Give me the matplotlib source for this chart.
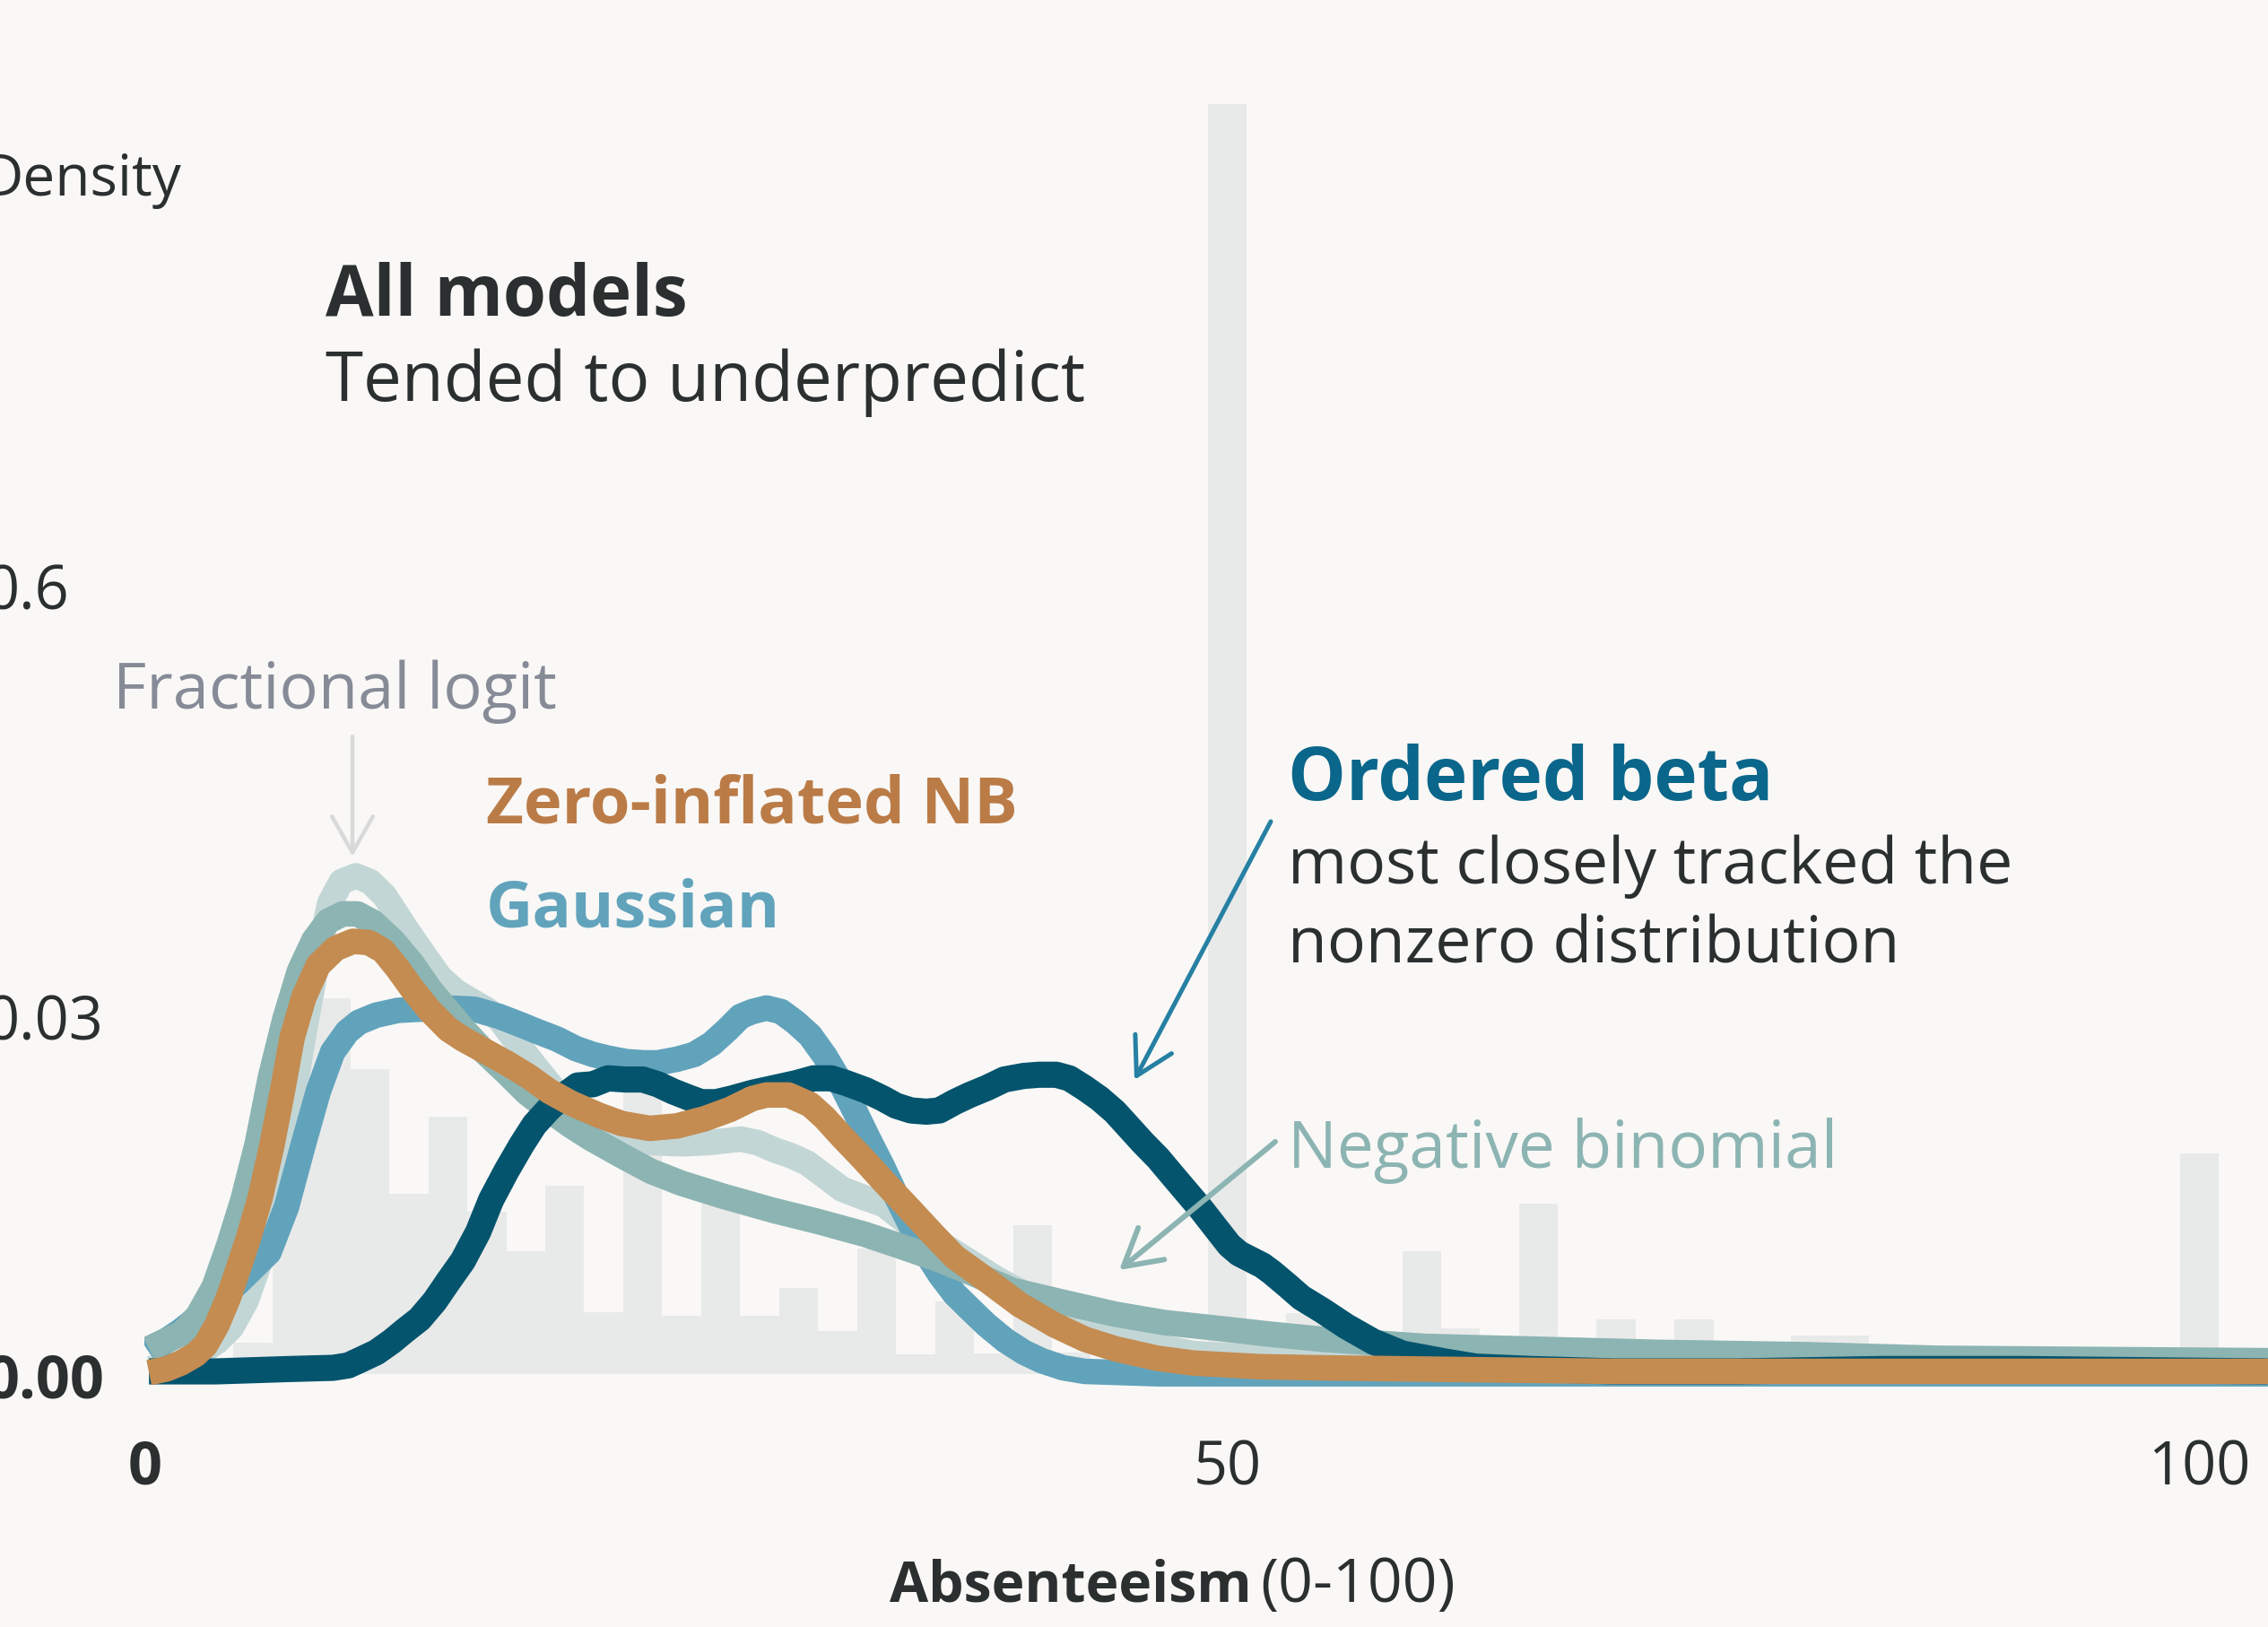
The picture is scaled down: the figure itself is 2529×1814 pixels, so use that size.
import numpy as np
import matplotlib
matplotlib.use("Agg")
import matplotlib.pyplot as plt
from matplotlib.patches import FancyArrowPatch, ArrowStyle

# ---------------- data ----------------
bin_centers = [1.4, 3.2, 5.0, 6.8, 8.6, 10.4, 12.2, 14.0, 15.8, 17.6, 19.4, 21.2, 23.0,
               24.8, 26.6, 28.4, 30.2, 32.0, 33.8, 35.6, 37.4, 39.2, 41.0, 42.8, 44.6,
               46.4, 48.2, 50, 52, 54, 56, 58, 60, 62, 64, 66, 68, 70, 72, 74, 76, 78,
               80, 82, 84, 86, 88, 90, 92, 94, 96, 98, 100]
bin_density = [0.0004, 0.0004, 0.0026, 0.0298, 0.0315, 0.0256, 0.0151, 0.0216, 0.0136,
               0.0103, 0.0158, 0.0052, 0.0239, 0.0049, 0.0143, 0.0049, 0.0072, 0.0036,
               0.0105, 0.0016, 0.0061, 0.0017, 0.0125, 0.0018, 0.0008, 0.0008, 0.0008,
               0.1066, 0.0010, 0.0051, 0.0008, 0.0008, 0.0103, 0.0038, 0.0008, 0.0143,
               0.0006, 0.0046, 0.0006, 0.0046, 0.0006, 0.0006, 0.0032, 0.0032, 0.0004,
               0.0004, 0.0004, 0.0004, 0.0004, 0.0004, 0.0004, 0.0004, 0.0185]

ob_x = [0.2, 3.3, 6.7, 8.7, 9.4, 10.0, 10.7, 11.4, 12.0, 12.7, 13.4, 14.0, 14.7, 15.4,
        16.0, 16.7, 17.4, 18.0, 18.7, 19.4, 20.0, 20.7, 21.4, 22.2, 23.0, 23.7, 24.4,
        25.1, 25.7, 26.4, 27.1, 28.1, 29.1, 30.1, 30.9, 31.7, 32.4, 33.3, 34.1, 34.7,
        35.4, 36.1, 36.7, 37.4, 38.1, 38.9, 39.7, 40.6, 41.3, 42.1, 42.7, 43.4, 44.1,
        44.8, 45.4, 46.1, 46.8, 47.4, 48.1, 48.8, 49.4, 50.1, 50.6, 51.2, 51.8, 52.3,
        53.1, 53.8, 54.9, 56.1, 57.5, 59.0, 61.3, 62.8, 65.7, 69.9, 76.2, 83.6, 91.0,
        103.5]
ob_y = [0.0002, 0.0002, 0.0004, 0.0005, 0.0007, 0.0012, 0.0018, 0.0027, 0.0036, 0.0046,
        0.0061, 0.0077, 0.0095, 0.0119, 0.0146, 0.0170, 0.0192, 0.0209, 0.0223, 0.0234,
        0.0242, 0.0243, 0.0248, 0.0247, 0.0247, 0.0243, 0.0237, 0.0232, 0.0228, 0.0228,
        0.0231, 0.0236, 0.0240, 0.0244, 0.0248, 0.0248, 0.0244, 0.0238, 0.0231, 0.0225,
        0.0221, 0.0220, 0.0221, 0.0228, 0.0234, 0.0240, 0.0247, 0.0250, 0.0251, 0.0251,
        0.0248, 0.0240, 0.0231, 0.0220, 0.0208, 0.0194, 0.0181, 0.0168, 0.0153, 0.0138,
        0.0124, 0.0108, 0.0101, 0.0096, 0.0091, 0.0085, 0.0074, 0.0064, 0.0053, 0.0040,
        0.0027, 0.0017, 0.0010, 0.0006, 0.0004, 0.0002, 0.0002, 0.0004, 0.0004, 0.0002]

gau_x = [0.2, 1.67, 3.01, 4.34, 5.74, 6.55, 7.35, 8.02, 8.68, 9.35, 9.89, 10.69, 11.69,
         12.69, 14.03, 15.23, 16.37, 17.37, 18.04, 19.04, 19.91, 20.71, 21.38, 22.24,
         23.05, 23.71, 24.58, 25.38, 26.19, 26.92, 27.52, 28.06, 28.72, 29.39, 30.06,
         30.73, 31.40, 32.06, 32.73, 33.40, 34.07, 34.74, 35.40, 36.07, 36.74, 37.41,
         38.08, 38.88, 39.75, 40.61, 41.42, 42.42, 43.42, 46.76, 61.27, 103.53]
gau_y = [0.0018, 0.0036, 0.0055, 0.0077, 0.0102, 0.0140, 0.0194, 0.0237, 0.0270, 0.0287,
         0.0295, 0.0301, 0.0305, 0.0306, 0.0307, 0.0306, 0.0300, 0.0293, 0.0288, 0.0281,
         0.0273, 0.0268, 0.0265, 0.0262, 0.0261, 0.0261, 0.0264, 0.0268, 0.0277, 0.0289,
         0.0300, 0.0304, 0.0307, 0.0304, 0.0295, 0.0284, 0.0267, 0.0247, 0.0223, 0.0198,
         0.0174, 0.0148, 0.0124, 0.0102, 0.0083, 0.0067, 0.0055, 0.0041, 0.0028, 0.0018,
         0.0011, 0.0005, 0.0002, 0.0, 0.0, 0.0]

zinb_x = [0.2, 1.00, 1.67, 2.34, 2.81, 3.34, 3.87, 4.34, 4.81, 5.34, 5.88, 6.35, 6.81,
          7.35, 8.02, 8.82, 9.62, 10.35, 11.02, 11.69, 12.36, 13.16, 14.03, 14.70, 15.70,
          16.70, 17.70, 18.70, 19.71, 20.98, 22.04, 23.31, 24.58, 25.85, 27.05, 28.06,
          28.72, 29.73, 30.73, 31.40, 32.20, 33.20, 34.20, 35.34, 36.41, 37.41, 38.94,
          40.41, 42.02, 43.42, 44.82, 46.76, 48.43, 51.60, 54.87, 69.90, 103.53]
zinb_y = [0.0001, 0.0004, 0.0009, 0.0016, 0.0024, 0.0041, 0.0064, 0.0089, 0.0115, 0.0148,
          0.0192, 0.0236, 0.0282, 0.0316, 0.0343, 0.0357, 0.0363, 0.0362, 0.0355, 0.0340,
          0.0323, 0.0305, 0.0289, 0.0281, 0.0271, 0.0261, 0.0250, 0.0237, 0.0227, 0.0217,
          0.0210, 0.0206, 0.0208, 0.0214, 0.0222, 0.0231, 0.0234, 0.0234, 0.0226, 0.0215,
          0.0199, 0.0180, 0.0160, 0.0138, 0.0117, 0.0098, 0.0078, 0.0058, 0.0041, 0.0029,
          0.0021, 0.0013, 0.0009, 0.0006, 0.0005, 0.0002, 0.0002]

nb_x = [0.2, 1.00, 1.74, 2.47, 3.21, 3.87, 4.54, 5.21, 5.81, 6.48, 7.15, 7.82, 8.48, 9.15,
        9.82, 10.55, 11.49, 12.36, 13.16, 14.03, 14.83, 15.70, 16.70, 17.64, 18.70, 19.71,
        20.57, 22.04, 23.38, 24.78, 26.72, 29.06, 31.06, 33.27, 35.07, 36.81, 38.41, 40.08,
        42.42, 44.82, 47.09, 49.63, 52.34, 54.87, 57.55, 60.15, 64.99, 72.13, 79.87, 86.57,
        94.75, 103.53]
nb_y = [0.0021, 0.0028, 0.0034, 0.0049, 0.0073, 0.0107, 0.0146, 0.0194, 0.0249, 0.0298,
        0.0338, 0.0364, 0.0380, 0.0386, 0.0386, 0.0379, 0.0363, 0.0344, 0.0323, 0.0304,
        0.0287, 0.0270, 0.0253, 0.0236, 0.0221, 0.0208, 0.0198, 0.0183, 0.0170, 0.0160,
        0.0149, 0.0137, 0.0128, 0.0117, 0.0106, 0.0095, 0.0083, 0.0070, 0.0060, 0.0050,
        0.0043, 0.0038, 0.0033, 0.0029, 0.0026, 0.0023, 0.0021, 0.0018, 0.0016, 0.0013,
        0.0012, 0.0011]

fl_x = [0.2, 1.34, 2.34, 3.34, 4.01, 4.68, 5.34, 6.01, 6.68, 7.35, 8.02, 8.55, 9.08, 9.75,
        10.42, 11.09, 12.09, 12.89, 13.63, 14.36, 15.10, 15.76, 16.37, 17.23, 18.04, 18.84,
        19.51, 20.71, 22.04, 23.38, 24.78, 26.05, 27.52, 28.32, 29.06, 29.86, 30.59, 31.40,
        32.20, 33.20, 34.14, 35.34, 36.54, 37.74, 39.41, 41.28, 43.09, 44.82, 46.76, 48.43,
        52.19, 57.55, 69.90, 83.59, 103.53]
fl_y = [0.0004, 0.0007, 0.0015, 0.0027, 0.0039, 0.0061, 0.0095, 0.0146, 0.0213, 0.0285,
        0.0352, 0.0395, 0.0413, 0.0418, 0.0413, 0.0401, 0.0373, 0.0352, 0.0333, 0.0321,
        0.0313, 0.0306, 0.0298, 0.0277, 0.0258, 0.0240, 0.0227, 0.0211, 0.0199, 0.0194,
        0.0193, 0.0194, 0.0197, 0.0194, 0.0188, 0.0183, 0.0177, 0.0166, 0.0155, 0.0148,
        0.0142, 0.0125, 0.0112, 0.0098, 0.0079, 0.0061, 0.0044, 0.0032, 0.0023, 0.0017,
        0.0013, 0.0011, 0.0006, 0.0004, 0.0002]

x_ticks = [0, 50, 100]
x_tick_labels = ["0", "50", "100"]
y_ticks = [0.0, 0.03, 0.0662]
y_tick_labels = ["0.00", "0.03", "0.6"]

# ---------------- style ----------------
W, H, DPI = 2529, 1815, 100
BG = "#f9f8f6"
DARK = "#2b2f2f"
BAR = "#e8eae9"
C_FL, C_G, C_NB, C_OB, C_Z = "#c3d6d6", "#62a3bc", "#8cb4b2", "#05546e", "#c48c51"

plt.rcParams['font.family'] = ['Open Sans', 'Noto Sans', 'DejaVu Sans']

fig = plt.figure(figsize=(W / DPI, H / DPI), dpi=DPI, facecolor=BG)
ax = fig.add_axes([100 / 1568, 150 / 1125, 1468 / 1568, 975 / 1125])
ax.set_facecolor(BG)


def fwd(x):
    x = np.asarray(x, float)
    return np.where(x <= 50, x * 14.97, 748.5 + (x - 50) * 13.44)


def inv(u):
    u = np.asarray(u, float)
    return np.where(u <= 748.5, u / 14.97, 50 + (u - 748.5) / 13.44)


ax.set_xscale('function', functions=(fwd, inv))

# histogram edges from centres
c = np.array(bin_centers, float)
mids = (c[:-1] + c[1:]) / 2
edges = np.concatenate([[c[0] - (c[1] - c[0]) / 2], mids, [c[-1] + (c[-1] - c[-2]) / 2]])
ax.stairs(bin_density, edges, fill=True, color=BAR, linewidth=0, zorder=1)

lw = 20.5
kw = dict(solid_capstyle='butt', solid_joinstyle='round')
ax.plot(fl_x, fl_y, color=C_FL, lw=lw, zorder=2, **kw)
ax.plot(gau_x, gau_y, color=C_G, lw=lw, zorder=3, **kw)
ax.plot(nb_x, nb_y, color=C_NB, lw=lw, zorder=4, **kw)
ax.plot(ob_x, ob_y, color=C_OB, lw=21, zorder=5, **kw)
ax.plot(zinb_x, zinb_y, color=C_Z, lw=lw, zorder=6, **kw)

ax.set_xlim(0, 103.53)
ax.set_ylim(-0.003036, 0.115385)
for s in ax.spines.values():
    s.set_visible(False)

ax.set_xticks(x_ticks, labels=x_tick_labels)
ax.set_yticks(y_ticks, labels=y_tick_labels)
ax.tick_params(axis='both', length=0, labelsize=48, labelcolor=DARK)
ax.tick_params(axis='x', pad=22)
ax.tick_params(axis='y', pad=128)
for lbl in ax.get_yticklabels():
    lbl.set_horizontalalignment('left')
ax.get_yticklabels()[0].set_fontweight('bold')
ax.get_xticklabels()[0].set_fontweight('bold')


def ftxt(x, y, s, **kw):
    fig.text(x / W, 1 - y / H, s, va='baseline', **kw)


ftxt(-20, 218, "Density", size=46, color=DARK)
ftxt(363, 352, "All models", size=56, color=DARK, fontweight='bold')
ftxt(363, 447, "Tended to underpredict", size=55, color=DARK)
ftxt(126, 790, "Fractional logit", size=52, color="#868b97")
ftxt(542, 918, "Zero-inflated NB", size=52, color="#bb7b47", fontweight='bold')
ftxt(542, 1034, "Gaussian", size=52, color=C_G, fontweight='bold')
ftxt(1436, 892, "Ordered beta", size=58.8, color="#0a668a", fontweight='bold')
ftxt(1436, 985, "most closely tracked the", size=51.5, color=DARK)
ftxt(1436, 1073, "nonzero distribution", size=51.5, color=DARK)
ftxt(1436, 1302, "Negative binomial", size=52.5, color=C_NB)
ftxt(1396, 1786, "Absenteeism", size=45, color=DARK, fontweight='bold', ha='right')
ftxt(1405, 1786, "(0-100)", size=49, color=DARK, ha='left')


def farrow(tail, tip, color, lw):
    st = ArrowStyle('->', head_length=0.58, head_width=0.33)
    a = FancyArrowPatch((tail[0] / W, 1 - tail[1] / H), (tip[0] / W, 1 - tip[1] / H),
                        transform=fig.transFigure, arrowstyle=st, mutation_scale=50,
                        color=color, lw=lw, shrinkA=0, shrinkB=0)
    fig.add_artist(a)


farrow((393, 822), (393, 956), "#d9d9d9", 3.2)
farrow((1417, 917), (1265, 1205), "#2680a3", 3.6)
farrow((1422, 1274), (1248, 1417), C_NB, 4.3)

fig.savefig("out.png", dpi=DPI, facecolor=BG)
